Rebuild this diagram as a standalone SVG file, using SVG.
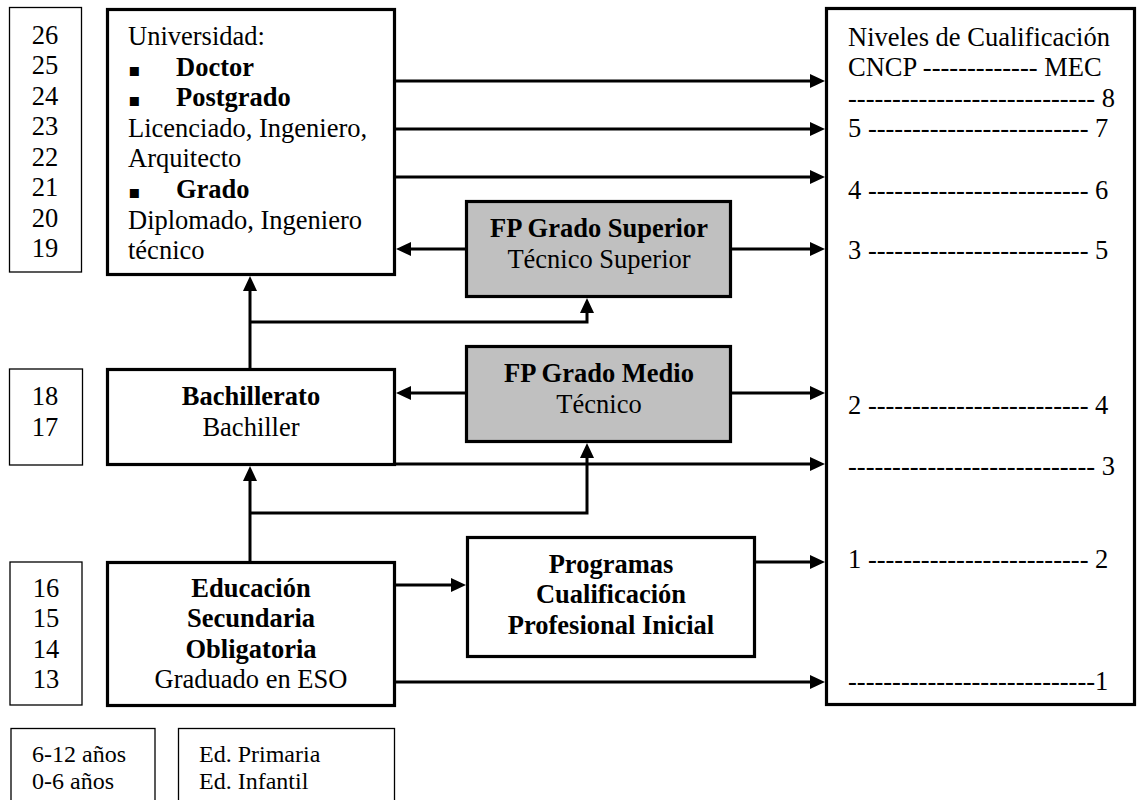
<svg xmlns="http://www.w3.org/2000/svg" width="1141" height="800" viewBox="0 0 1141 800">
<style>
text{font-family:"Liberation Serif","Times New Roman",serif;font-size:26.5px;fill:#000}
.b{font-weight:bold}
.m{text-anchor:middle}
.s{font-size:24px}
.thin{fill:#fff;stroke:#000;stroke-width:1.3}
.thick{fill:#fff;stroke:#000;stroke-width:3.2}
.gray{fill:#c0c0c0;stroke:#000;stroke-width:3.2}
.c{fill:none;stroke:#000;stroke-width:3}
.bul{font-family:"DejaVu Sans",sans-serif;font-size:18px}
</style>
<defs>
<marker id="ah" markerUnits="userSpaceOnUse" markerWidth="16" markerHeight="14" refX="7" refY="7" orient="auto">
<path d="M0,0 L15,7 L0,14 z" fill="#000"/>
</marker>
</defs>
<rect width="1141" height="800" fill="#fff"/>

<g id="connectors">
<path class="c" d="M396,81 H817" marker-end="url(#ah)"/>
<path class="c" d="M396,129 H817" marker-end="url(#ah)"/>
<path class="c" d="M396,177 H817" marker-end="url(#ah)"/>
<path class="c" d="M465,249 H404" marker-end="url(#ah)"/>
<path class="c" d="M732,249 H817" marker-end="url(#ah)"/>
<path class="c" d="M250,368 V284" marker-end="url(#ah)"/>
<path class="c" d="M250,322 H587 V306" marker-end="url(#ah)"/>
<path class="c" d="M465,393 H404" marker-end="url(#ah)"/>
<path class="c" d="M732,393 H817" marker-end="url(#ah)"/>
<path class="c" d="M396,464 H817" marker-end="url(#ah)"/>
<path class="c" d="M250,561 V474" marker-end="url(#ah)"/>
<path class="c" d="M250,513 H587 V451" marker-end="url(#ah)"/>
<path class="c" d="M396,585 H458" marker-end="url(#ah)"/>
<path class="c" d="M756,562 H817" marker-end="url(#ah)"/>
<path class="c" d="M396,682 H817" marker-end="url(#ah)"/>
</g>

<g id="ages-univ">
<rect class="thin" x="9.5" y="7.5" width="72" height="264.5"/>
<text class="m" x="45" y="44">26</text>
<text class="m" x="45" y="74">25</text>
<text class="m" x="45" y="105">24</text>
<text class="m" x="45" y="135">23</text>
<text class="m" x="45" y="166">22</text>
<text class="m" x="45" y="196">21</text>
<text class="m" x="45" y="227">20</text>
<text class="m" x="45" y="257">19</text>
</g>

<g id="universidad">
<rect class="thick" x="107.5" y="9.5" width="287" height="265"/>
<text x="128" y="45">Universidad:</text>
<text class="bul" x="128" y="76">▪</text>
<text class="b" x="176" y="76">Doctor</text>
<text class="bul" x="128" y="106">▪</text>
<text class="b" x="176" y="106">Postgrado</text>
<text x="128" y="137">Licenciado, Ingeniero,</text>
<text x="128" y="167">Arquitecto</text>
<text class="bul" x="128" y="198">▪</text>
<text class="b" x="176" y="198">Grado</text>
<text x="128" y="229">Diplomado, Ingeniero</text>
<text x="128" y="259">técnico</text>
</g>

<g id="fp-superior">
<rect class="gray" x="466.5" y="201.5" width="264" height="95"/>
<text class="m b" x="599" y="237">FP Grado Superior</text>
<text class="m" x="599" y="268">Técnico Superior</text>
</g>

<g id="ages-bach">
<rect class="thin" x="9.5" y="369" width="73" height="96"/>
<text class="m" x="45" y="405">18</text>
<text class="m" x="45" y="436">17</text>
</g>

<g id="bachillerato">
<rect class="thick" x="107.5" y="369.5" width="287" height="95"/>
<text class="m b" x="251" y="405">Bachillerato</text>
<text class="m" x="251" y="436">Bachiller</text>
</g>

<g id="fp-medio">
<rect class="gray" x="466.5" y="346.5" width="264" height="95"/>
<text class="m b" x="599" y="382">FP Grado Medio</text>
<text class="m" x="599" y="413">Técnico</text>
</g>

<g id="ages-eso">
<rect class="thin" x="10" y="562" width="72" height="143"/>
<text class="m" x="46" y="597">16</text>
<text class="m" x="46" y="627">15</text>
<text class="m" x="46" y="658">14</text>
<text class="m" x="46" y="688">13</text>
</g>

<g id="eso">
<rect class="thick" x="107.5" y="562.5" width="287" height="143"/>
<text class="m b" x="251" y="597">Educación</text>
<text class="m b" x="251" y="627">Secundaria</text>
<text class="m b" x="251" y="658">Obligatoria</text>
<text class="m" x="251" y="688">Graduado en ESO</text>
</g>

<g id="pcpi">
<rect class="thick" x="467.5" y="537.5" width="287" height="119"/>
<text class="m b" x="611" y="573">Programas</text>
<text class="m b" x="611" y="603">Cualificación</text>
<text class="m b" x="611" y="634">Profesional Inicial</text>
</g>

<g id="niveles">
<rect class="thick" x="826.5" y="8.5" width="308" height="696"/>
<text x="848" y="46">Niveles de Cualificación</text>
<text x="848" y="76">CNCP ------------- MEC</text>
<text x="848" y="107">---------------------------- 8</text>
<text x="848" y="137">5 ------------------------- 7</text>
<text x="848" y="199">4 ------------------------- 6</text>
<text x="848" y="259">3 ------------------------- 5</text>
<text x="848" y="414">2 ------------------------- 4</text>
<text x="848" y="475">---------------------------- 3</text>
<text x="848" y="568">1 ------------------------- 2</text>
<text x="848" y="690">----------------------------1</text>
</g>

<g id="edad-inferior">
<rect class="thin" x="11" y="728.5" width="144" height="90"/>
<text class="s" x="32" y="762">6-12 años</text>
<text class="s" x="32" y="789">0-6 años</text>
</g>

<g id="primaria-infantil">
<rect class="thin" x="178.5" y="728.5" width="216" height="90"/>
<text class="s" x="199" y="762">Ed. Primaria</text>
<text class="s" x="199" y="789">Ed. Infantil</text>
</g>
</svg>
